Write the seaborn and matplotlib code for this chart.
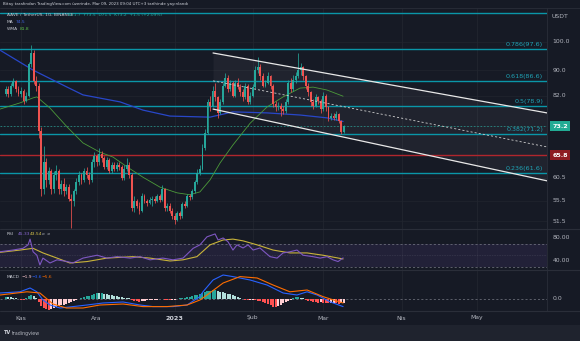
import numpy as np
import pandas as pd
import matplotlib
matplotlib.use("Agg")
import matplotlib.pyplot as plt
import seaborn as sns
from matplotlib.lines import Line2D
from matplotlib.patches import Rectangle
from matplotlib.transforms import blended_transform_factory as blend

# ---------------- data (days counted from 2022-11-01) ----------------
first_day = -6
first_open = 82.5
closes = [84, 82.5, 85, 86.5, 84, 82.5, 83.5, 80.5, 82, 92, 96, 86.5, 85, 72, 58, 64, 60, 62, 58, 61,
          62, 58, 59, 57.5, 58.5, 56, 55.5, 57.5, 59.5, 61, 60, 62, 61, 60, 64, 65.5, 64, 66, 65, 63,
          64.5, 62, 63.5, 62.5, 63.5, 63, 60.5, 62.5, 63.5, 61, 54, 55.5, 54.5, 53.5, 56.5, 55.5, 55, 55.8, 56, 55.5,
          56.5, 55.8, 58, 54, 54.5, 53.5, 52.5, 51.8, 53, 52.5, 54.8, 54.5, 56.5, 56.3, 57.5, 59.5, 61.5, 62.5, 67.5, 71.5,
          80, 79, 83.5, 81.5, 77, 80, 85, 87.5, 84, 86, 82, 86, 84.5, 83, 81.5, 85, 80, 82, 84.5, 90,
          91, 88, 85, 86, 88, 85, 79.5, 78.5, 79, 78, 77.5, 80, 86, 84, 87, 88, 90, 91, 88, 85,
          83, 80, 79, 81.5, 80.5, 78, 82, 78.5, 75.5, 76, 75.5, 76.5, 74.5, 71.7, 73.2]
highs = [85, 84.8, 86, 87.5, 87, 84.8, 84.5, 84, 83, 93, 99, 97, 88, 86, 73, 68, 65, 63, 62.5, 62,
         63.5, 62.5, 60, 60.5, 59, 59, 57, 58, 60.5, 62, 61.5, 62.8, 63, 61.8, 64.8, 66.5, 66, 67.5, 66.8, 65.5,
         65.2, 65, 64, 64.2, 64, 64, 63.5, 63.5, 65, 64, 61.5, 56.5, 56, 55.2, 57.2, 57, 56, 56.3, 56.5, 56.5,
         57, 57, 58.8, 58.3, 55, 55, 54, 53, 53.5, 53.5, 55.3, 55.5, 57, 57, 58, 60, 62.5, 63.5, 68.5, 72.5,
         81, 82, 85, 86, 82, 81, 86, 89, 88.5, 87, 86.5, 87, 87.5, 85.5, 84, 86, 85.5, 83, 85.5, 91.5,
         94.5, 92, 89, 87, 89.5, 88.5, 85.5, 80.5, 80, 79.8, 79, 81, 87, 87.5, 88.5, 89.5, 96, 92.5, 91.5, 88.5,
         86, 83.5, 81, 82.5, 82, 81, 83, 82.5, 79, 77, 76.8, 77.5, 77, 75, 73.5]
lows = [81.8, 81.5, 82, 84.5, 83.2, 81.8, 81.5, 79.5, 80, 81.5, 91, 85.5, 83.5, 70, 56.5, 57, 58.5, 59, 57, 57.2,
        60, 57, 57, 56.5, 57, 55.5, 50.2, 54.5, 57, 58.8, 59.2, 59.5, 60.5, 59, 59.5, 63, 63.2, 63.5, 64.2, 62.5,
        62.5, 61.5, 61.5, 62, 62, 62.3, 60, 60, 62, 60.5, 53.5, 53.2, 54, 52.8, 53.2, 55, 54.5, 54.8, 54.5, 55,
        55.2, 55.2, 55.5, 53.5, 53.5, 53, 52, 51, 51.5, 52, 52.2, 54, 54.2, 55.8, 56, 57.2, 59, 61, 62.2, 67,
        71, 77.5, 78.5, 80.5, 75.5, 76.5, 79.5, 84.5, 83, 83.5, 81.5, 81.5, 84, 82, 80.5, 81, 79.5, 79.5, 81.5, 84,
        89, 87, 84.5, 84.5, 85.5, 84, 78.5, 77.5, 77.8, 76, 76.5, 77, 79.5, 83, 83.5, 86, 87.5, 88.5, 87, 84,
        82, 79, 78, 78.5, 79.5, 77, 77.5, 77.5, 74.5, 75, 74.8, 75, 74, 71, 71.5]

ma_days = [-8.3, 4.8, 18.3, 24.6, 39.3, 48.4, 59.1, 75.0, 84.1, 97.6, 110.7, 121.4, 127.8]
ma_vals = [97.0, 90.1, 84.6, 82.2, 80.1, 77.7, 76.0, 75.7, 77.2, 76.9, 76.3, 75.5, 74.5]
wma_days = [-8.3, -0.4, 4.8, 6.3, 11.5, 18.3, 24.6, 31.3, 36.5, 42.0, 48.4, 55.2, 61.9, 67.0, 71.0,
            75.0, 79.0, 84.1, 90.9, 97.6, 104.0, 110.7, 115.9, 121.4, 127.8]
wma_vals = [78.0, 79.8, 81.3, 81.6, 78.3, 73.0, 68.8, 66.5, 65.3, 63.0, 60.6, 58.4, 57.2, 56.8, 57.4,
            60.0, 63.9, 68.3, 74.0, 78.6, 81.6, 84.3, 84.6, 83.7, 81.8]

rsi_days = [-8.3, -3.2, 0.8, 2.8, 3.6, 4.8, 6.3, 7.5, 8.7, 11.5, 14.3, 18.3, 20.6, 24.6, 27.4, 30.2, 34.1,
            38.1, 43.3, 47.2, 51.2, 56.3, 60.3, 64.3, 68.3, 71.0, 73.8, 77.0, 78.2, 80.2, 82.1, 84.1, 85.7,
            88.1, 90.1, 92.1, 94.8, 98.8, 101.6, 104.0, 106.7, 109.5, 111.9, 115.9, 118.7, 121.4, 123.8,
            125.8, 127.8]
rsi_vals = [56, 59, 62, 68, 78, 56, 50, 33, 45, 36.5, 42, 39, 36.5, 45, 47.5, 50, 45,
            47.5, 45, 47.5, 42, 45, 42, 45, 62, 68, 82, 87, 76.5, 80, 73.6, 59, 68,
            62.6, 68, 59, 62.6, 47.5, 45, 54, 56, 59, 50, 47.5, 45, 47.5, 42,
            39, 45.3]
rsima_days = [-8.3, -0.4, 4.8, 8.7, 14.3, 19.4, 26.2, 34.1, 44.4, 51.2, 59.1, 64.3, 69.8, 75.0, 80.2,
              84.1, 88.1, 93.7, 100.0, 106.7, 113.5, 119.8, 127.8]
rsima_vals = [55, 59, 62, 54, 45, 36.5, 39, 45, 47.5, 45, 40, 42, 47.5, 68, 76.5,
              78, 75, 68, 59, 54, 54, 50, 43.5]

macd_days = [-8.3, -0.4, 3.6, 6.3, 8.7, 11.5, 15.5, 20.6, 26.2, 32.5, 40.5, 47.2, 52.4, 60.3, 65.9,
             71.0, 72.2, 76.2, 80.2, 84.1, 90.9, 97.6, 104.0, 109.5, 113.5, 117.5, 122.6, 127.8]
macd_vals = [3.0, 3.6, 5.5, 3.6, -0.5, -3.0, -4.5, -3.8, -3.0, -2.0, -1.5, -3.0, -3.8, -3.8, -3.0,
             1.2, 3.6, 9.5, 12.0, 11.2, 9.5, 7.0, 3.0, 2.0, 3.6, 2.0, -1.4, -3.8]
sig_days = [-8.3, 2.4, 7.5, 12.7, 18.0, 24.6, 31.3, 40.5, 48.4, 57.9, 65.9, 71.0, 73.8, 80.2, 86.9,
            93.7, 100.0, 106.7, 113.5, 119.8, 127.8]
sig_vals = [2.0, 3.6, 3.0, -2.5, -4.5, -4.5, -3.0, -2.5, -3.8, -3.8, -3.0, -0.5, 2.0, 8.0, 11.2,
            10.5, 7.0, 3.6, 4.5, 1.2, -2.0]
hist_vals = [1.2, 1.0, 0.8, 0.6, 0.3, -0.2, -0.3, -0.5, 0.3, 1.3, 2.0, 1.6, 0.5, -1.5, -3.5, -4.5, -5.2, -5.5, -5.0, -4.6,
             -4.2, -3.6, -3.2, -2.8, -2.4, -2.0, -1.6, -1.2, -0.6, 0.2, 0.7, 1.1, 1.4, 1.6, 2.2, 2.7, 2.9, 2.8, 3.0, 2.6,
             2.3, 2.0, 1.8, 1.5, 1.3, 1.1, 0.8, 0.7, 0.6, 0.4, -0.5, -1.0, -1.2, -1.3, -0.9, -0.8, -0.7, -0.6, -0.5, -0.4,
             -0.3, -0.2, 0.2, -0.3, -0.4, -0.5, -0.4, -0.3, 0.1, 0.3, 0.5, 0.7, 0.9, 1.2, 1.5, 1.8, 2.1, 2.5, 2.9, 3.4,
             3.9, 4.2, 4.4, 4.5, 4.0, 3.7, 3.4, 3.0, 2.7, 2.3, 2.0, 1.5, 1.0, 0.6, 0.2, -0.3, -0.6, -0.4, -0.3, -0.5,
             -0.8, -1.2, -1.5, -2.0, -2.6, -3.2, -3.8, -4.0, -3.6, -3.0, -2.2, -1.4, -0.8, -0.3, 0.3, 0.8, 1.0, 0.7, 0.3, -0.3,
             -0.8, -1.2, -1.3, -1.5, -1.8, -1.6, -1.8, -2.0, -2.2, -2.0, -1.9, -2.1, -2.3, -2.1, -1.9]

fib_prices = [111.5, 97.6, 86.6, 78.9, 71.2, 61.6]
fib_labels = ["", "0.786(97.6)", "0.618(86.6)", "0.5(78.9)", "0.382(71.2)", "0.236(61.6)"]
support_price = 65.8
last_price = 73.2
channel_days = [76.2, 208.7]
channel_upper = [96.0, 76.9]
channel_mid = [86.6, 67.8]
channel_lower = [78.0, 59.8]
price_ticks = [100.0, 90.0, 82.0, 60.5, 55.5, 51.5]
price_tick_labels = ["100.0", "90.0", "82.0", "60.5", "55.5", "51.5"]
rsi_ticks = [80, 40]
rsi_tick_labels = ["80.00", "40.00"]
month_days = [0, 30, 61, 92, 120, 151, 181]
month_labels = ["Kas", "Ara", "2023", "Şub", "Mar", "Nis", "May"]

# ---------------- style ----------------
BG = "#161a25"
GRID = "#21252f"
TXT = "#b2b5be"
UP = "#26a69a"
DN = "#ef5350"
FIB = "#0a96a8"

sns.set_theme(style="dark")
plt.rcParams["font.family"] = ["DejaVu Sans"]

W, H = 580, 341
fig = plt.figure(figsize=(5.8, 3.41), dpi=100, facecolor=BG)

def fx(px):
    return px / W

def fy(py):
    return 1 - py / H

PANE_R = 547
ax = fig.add_axes([0, fy(229), fx(PANE_R), (229 - 8) / H])
ax_rsi = fig.add_axes([0, fy(270), fx(PANE_R), (270 - 229) / H])
ax_macd = fig.add_axes([0, fy(311), fx(PANE_R), (311 - 270) / H])

XMIN, XMAX = -8.33, 208.7
for a in (ax, ax_rsi, ax_macd):
    a.set_facecolor(BG)
    a.set_xlim(XMIN, XMAX)
    a.set_xticks([])
    a.set_yticks([])
    for s in a.spines.values():
        s.set_visible(False)
    for d in month_days:
        a.axvline(d, color=GRID, lw=0.6, zorder=0)

# ---------------- main pane ----------------
ax.set_yscale("log")
ax.set_ylim(50.03, 113.4)
ax.minorticks_off()
ax.set_yticks([])
for p in price_ticks + [last_price, support_price]:
    ax.axhline(p, color=GRID, lw=0.5, zorder=0)

days = np.arange(first_day, first_day + len(closes))
opens = [first_open] + closes[:-1]
df = pd.DataFrame({"day": days, "open": opens, "close": closes, "high": highs, "low": lows})
up = df["close"] >= df["open"]
cols = np.where(up, UP, DN)

# channel
ax.fill_between(channel_days, channel_lower, channel_upper, color="white", alpha=0.045, lw=0, zorder=1)

# fib levels
for p, lab in zip(fib_prices, fib_labels):
    ax.axhline(p, color=FIB, lw=1.0, zorder=2)
    if lab:
        ax.text(0.993, p * 1.006, lab, transform=blend(ax.transAxes, ax.transData),
                ha="right", va="bottom", fontsize=4.6, color="#1fa3b5", zorder=6)
ax.axhline(support_price, color="#b0262d", lw=1.0, zorder=2)
ax.axhline(last_price, color=UP, lw=0.6, ls=(0, (2, 2)), alpha=0.8, zorder=2)

# moving averages
sns.lineplot(x=ma_days, y=ma_vals, ax=ax, color="#2847c9", lw=0.9, zorder=3, legend=False)
sns.lineplot(x=wma_days, y=wma_vals, ax=ax, color="#4c9a3a", lw=0.6, zorder=3, legend=False)

# candles
ax.vlines(df["day"], df["low"], df["high"], colors=cols, lw=0.55, zorder=4)
body_h = np.maximum((df["close"] - df["open"]).abs(), 0.15)
ax.bar(df["day"], body_h, bottom=np.minimum(df["open"], df["close"]), width=0.75,
       color=cols, linewidth=0, zorder=5)

# channel lines
sns.lineplot(x=channel_days, y=channel_upper, ax=ax, color="#e8e8e8", lw=0.9, zorder=6, legend=False)
sns.lineplot(x=channel_days, y=channel_lower, ax=ax, color="#e8e8e8", lw=0.9, zorder=6, legend=False)
ax.plot(channel_days, channel_mid, color="#cfcfcf", lw=0.6, ls=(0, (2.5, 2.5)), zorder=6)
ax.set_xlim(XMIN, XMAX)
ax.set_xlabel("")
ax.set_ylabel("")

# ---------------- RSI pane ----------------
ax_rsi.set_ylim(24.3, 95.6)
ax_rsi.axhspan(30, 70, color="#7e57c2", alpha=0.12, lw=0, zorder=1)
ax_rsi.axhline(70, color="#787b86", lw=0.5, ls=(0, (3, 3)), zorder=2)
ax_rsi.axhline(30, color="#787b86", lw=0.5, ls=(0, (3, 3)), zorder=2)
ax_rsi.axhline(50, color="#787b86", lw=0.4, ls=(0, (1, 2)), alpha=0.6, zorder=2)
sns.lineplot(x=rsima_days, y=rsima_vals, ax=ax_rsi, color="#c9b43a", lw=0.8, zorder=3, legend=False)
sns.lineplot(x=rsi_days, y=rsi_vals, ax=ax_rsi, color="#7e57c2", lw=0.8, zorder=4, legend=False)
ax_rsi.set_xlim(XMIN, XMAX)
ax_rsi.set_xlabel("")
ax_rsi.set_ylabel("")

# ---------------- MACD pane ----------------
ax_macd.set_ylim(-6.0, 14.5)
ax_macd.axhline(0, color="#787b86", lw=0.5, ls=(0, (3, 3)), zorder=1)
hcols = []
prev = None
for v in hist_vals:
    if v >= 0:
        c = "#26a69a" if (prev is None or v >= prev) else "#b2dfdb"
    else:
        c = "#ff5252" if (prev is None or v <= prev) else "#ffcdd2"
    hcols.append(c)
    prev = v
ax_macd.bar(days, hist_vals, width=0.8, color=hcols, linewidth=0, zorder=2)
sns.lineplot(x=macd_days, y=macd_vals, ax=ax_macd, color="#2962ff", lw=0.8, zorder=3, legend=False)
sns.lineplot(x=sig_days, y=sig_vals, ax=ax_macd, color="#ff6d00", lw=0.8, zorder=3, legend=False)
ax_macd.set_xlim(XMIN, XMAX)
ax_macd.set_xlabel("")
ax_macd.set_ylabel("")

# ---------------- separators / strips ----------------
for py in (229, 270, 311):
    fig.add_artist(Line2D([0, 1], [fy(py), fy(py)], color="#2a2e39", lw=0.8))
fig.add_artist(Line2D([fx(PANE_R), fx(PANE_R)], [fy(311), fy(8)], color="#2a2e39", lw=0.6))
fig.add_artist(Line2D([0, 1], [fy(8), fy(8)], color="#2a2e39", lw=0.6))
fig.add_artist(Rectangle((0, 0), 1, (341 - 325) / H, transform=fig.transFigure,
                         color="#1f232e", lw=0, zorder=-1))

# ---------------- right price axis ----------------
tr_main = blend(ax.transAxes, ax.transData)
X_LAB = 1 + 5.5 / PANE_R
fig.text(fx(552), fy(17), "USDT", fontsize=4.4, color=TXT, va="center", ha="left")
for p, lab in zip(price_ticks, price_tick_labels):
    ax.text(X_LAB, p, lab, transform=tr_main, fontsize=4.4, color=TXT, va="center", ha="left")
ax.text(X_LAB, last_price, "73.2", transform=tr_main, fontsize=4.6, color="white", va="center",
        ha="left", fontweight="bold",
        bbox=dict(boxstyle="square,pad=0.35", fc="#22ab94", ec="none"))
ax.text(X_LAB, support_price, "65.8", transform=tr_main, fontsize=4.6, color="white", va="center",
        ha="left", fontweight="bold",
        bbox=dict(boxstyle="square,pad=0.35", fc="#8e1c22", ec="none"))
tr_rsi = blend(ax_rsi.transAxes, ax_rsi.transData)
for p, lab in zip(rsi_ticks, rsi_tick_labels):
    ax_rsi.text(X_LAB, p, lab, transform=tr_rsi, fontsize=4.4, color=TXT, va="center", ha="left")
ax_macd.text(X_LAB, 0, "0.0", transform=blend(ax_macd.transAxes, ax_macd.transData),
             fontsize=4.4, color=TXT, va="center", ha="left")

# ---------------- time axis ----------------
tr_time = blend(ax_macd.transData, fig.transFigure)
for d, lab in zip(month_days, month_labels):
    ax_macd.text(d, fy(318), lab, transform=tr_time, fontsize=4.6 if lab == "2023" else 4.4,
                 color="#d1d4dc" if lab == "2023" else TXT, ha="center", va="center",
                 fontweight="bold" if lab == "2023" else "normal")

# ---------------- header & legends ----------------
fig.text(fx(3), fy(4.5), "Bitay tarafından TradingView.com üzerinde, Mar 09, 2023 09:04 UTC+3 tarihinde yayınlandı",
         fontsize=2.9, color="#d1d4dc", va="center", ha="left")
LF = 3.2
fig.text(fx(7), fy(15), "AAVE / TetherUS, 1G, BINANCE", fontsize=LF, color="#c4c7cf", va="center")
fig.text(fx(68), fy(15), "A71.7  Y73.5  D71.5  K73.2  +1.5 (+2.09%)", fontsize=LF, color=UP, va="center")
fig.text(fx(7), fy(22), "MA", fontsize=LF, color="#c4c7cf", va="center")
fig.text(fx(16), fy(22), "74.5", fontsize=LF, color="#3f63e0", va="center")
fig.text(fx(7), fy(29), "WMA", fontsize=LF, color="#c4c7cf", va="center")
fig.text(fx(20), fy(29), "81.8", fontsize=LF, color="#5cb84a", va="center")
fig.text(fx(7), fy(234), "RSI", fontsize=LF, color="#c4c7cf", va="center")
fig.text(fx(18), fy(234), "45.33", fontsize=LF, color="#8c6ad6", va="center")
fig.text(fx(30), fy(234), "43.54", fontsize=LF, color="#d6c24a", va="center")
fig.text(fx(42), fy(234), "ø  ø", fontsize=LF, color="#9598a1", va="center")
fig.text(fx(7), fy(277), "MACD", fontsize=LF, color="#c4c7cf", va="center")
fig.text(fx(21), fy(277), "−1.9", fontsize=LF, color="#ffcdd2", va="center")
fig.text(fx(32), fy(277), "−3.6", fontsize=LF, color="#2962ff", va="center")
fig.text(fx(42), fy(277), "−5.6", fontsize=LF, color="#ff6d00", va="center")
fig.text(fx(4), fy(333), "TV", fontsize=3.6, color="#d1d4dc", va="center", fontweight="bold")
fig.text(fx(12), fy(333), "tradingview", fontsize=3.4, color="#b2b5be", va="center")

fig.savefig("out.png", dpi=100, facecolor=BG)
